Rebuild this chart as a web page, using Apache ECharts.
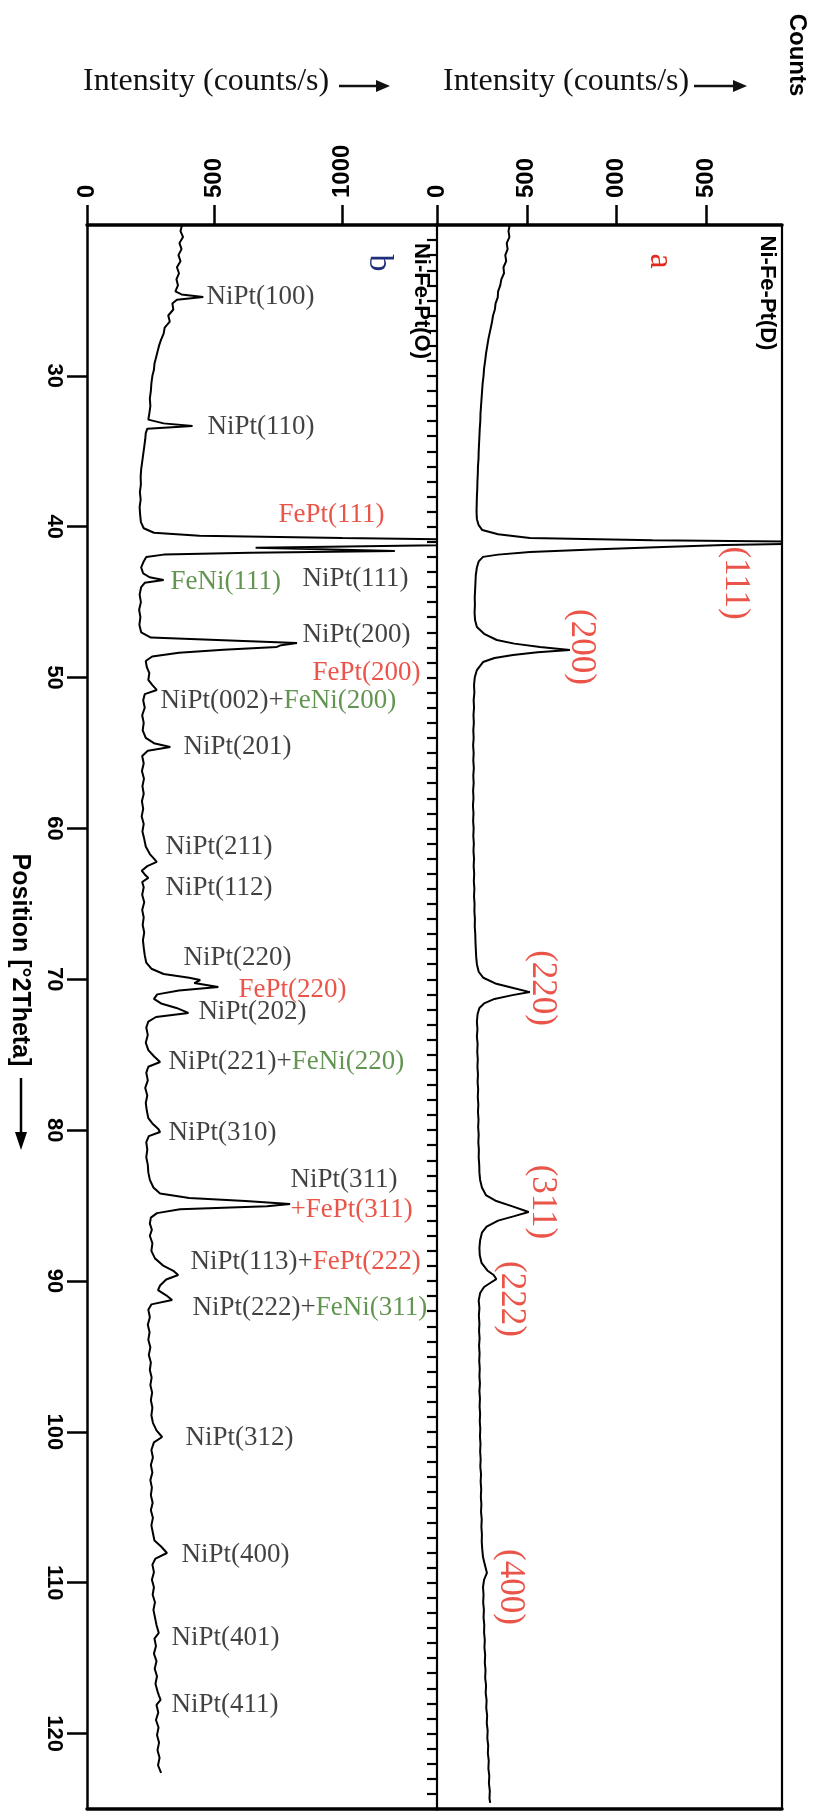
<!DOCTYPE html>
<html><head><meta charset="utf-8">
<script src="https://cdn.jsdelivr.net/npm/echarts@6/dist/echarts.min.js"></script>
<style>html,body{margin:0;padding:0;background:#fff}#c{width:813px;height:1818px}</style>
</head><body><div id="c"></div>
<script>
// ---- data: [2Theta (deg), intensity (counts/s)] ----
const xrdB = [[20.0,372],[20.4,366],[20.8,376],[21.2,362],[21.6,370],[22.0,358],[22.4,366],[22.8,352],[23.2,360],[23.6,350],[24.0,356],[24.4,346],[24.6,370],[24.77,455],[24.95,352],[25.2,334],[25.6,338],[26.0,318],[26.4,324],[26.8,304],[27.2,300],[27.6,290],[28.0,282],[28.4,276],[28.8,270],[29.2,264],[29.6,262],[30.0,256],[30.5,252],[31.0,250],[31.5,246],[32.0,248],[32.5,244],[32.9,240],[33.15,300],[33.32,413],[33.5,236],[33.8,230],[34.2,228],[34.7,224],[35.2,220],[35.7,216],[36.2,212],[36.7,210],[37.2,211],[37.7,207],[38.2,210],[38.7,206],[39.2,208],[39.7,211],[40.1,222],[40.4,262],[40.6,440],[40.75,1000],[40.9,1650],[41.08,2100],[41.25,1300],[41.4,660],[41.52,1000],[41.61,1205],[41.72,640],[41.85,300],[42.0,232],[42.3,222],[42.7,212],[43.1,220],[43.35,245],[43.53,300],[43.72,226],[44.0,212],[44.5,206],[45.0,211],[45.5,204],[46.0,209],[46.5,205],[47.0,212],[47.35,250],[47.55,560],[47.71,822],[47.85,760],[47.97,743],[48.15,534],[48.35,360],[48.6,255],[48.9,230],[49.3,234],[49.7,244],[50.16,240],[50.5,256],[50.82,273],[51.1,226],[51.5,220],[52.0,226],[52.5,216],[53.0,222],[53.5,218],[54.0,230],[54.35,262],[54.6,326],[54.85,238],[55.2,216],[55.7,222],[56.2,215],[56.7,223],[57.2,217],[57.7,222],[58.2,215],[58.7,220],[59.2,214],[59.7,222],[60.2,217],[60.7,224],[61.2,230],[61.7,246],[62.0,262],[62.22,273],[62.5,236],[62.8,214],[63.05,226],[63.28,240],[63.55,216],[63.9,222],[64.4,216],[64.9,224],[65.4,216],[65.9,222],[66.4,218],[66.9,224],[67.4,219],[67.9,222],[68.4,226],[68.9,232],[69.3,252],[69.65,300],[69.9,400],[70.05,443],[70.25,420],[70.51,514],[70.75,360],[71.0,275],[71.3,262],[71.6,290],[71.9,350],[72.23,397],[72.5,270],[72.8,240],[73.2,232],[73.7,238],[74.2,230],[74.7,240],[75.1,262],[75.48,286],[75.8,240],[76.2,232],[76.7,238],[77.2,228],[77.7,236],[78.2,230],[78.7,234],[79.2,240],[79.6,258],[79.9,278],[80.12,286],[80.4,242],[80.8,232],[81.3,236],[81.8,232],[82.3,238],[82.8,240],[83.3,246],[83.8,260],[84.2,286],[84.5,400],[84.7,620],[84.9,795],[85.05,705],[85.25,364],[85.5,274],[85.8,250],[86.2,246],[86.6,254],[87.0,246],[87.5,256],[88.0,252],[88.5,266],[89.0,300],[89.35,340],[89.6,357],[89.9,310],[90.3,286],[90.6,278],[90.95,310],[91.26,333],[91.55,252],[91.9,240],[92.4,246],[92.9,238],[93.4,245],[93.9,240],[94.4,248],[94.9,242],[95.4,250],[95.9,246],[96.4,253],[96.9,248],[97.4,255],[97.9,250],[98.4,256],[98.9,252],[99.4,258],[99.9,272],[100.34,294],[100.7,262],[101.2,252],[101.7,258],[102.2,250],[102.7,256],[103.2,248],[103.7,254],[104.2,250],[104.7,257],[105.2,250],[105.7,258],[106.2,252],[106.7,258],[107.2,264],[107.6,290],[108.03,313],[108.4,268],[108.8,256],[109.3,262],[109.8,254],[110.3,262],[110.8,257],[111.3,266],[111.8,260],[112.3,266],[112.8,272],[113.33,281],[113.7,264],[114.2,270],[114.7,262],[115.2,272],[115.7,265],[116.2,274],[116.7,268],[117.2,276],[117.5,282],[117.77,288],[118.1,272],[118.6,279],[119.1,270],[119.6,280],[120.1,274],[120.6,282],[121.1,276],[121.6,284],[122.1,278],[122.61,290]];

const xrdA = [[20.0,405],[20.4,398],[20.8,403],[21.2,388],[21.6,393],[22.0,380],[22.4,385],[22.8,370],[23.2,373],[23.6,358],[24.0,352],[24.4,340],[24.8,338],[25.2,326],[25.6,322],[26.0,312],[26.5,305],[27.0,296],[27.5,287],[28.0,280],[28.5,273],[29.0,268],[29.5,262],[30.0,259],[30.5,254],[31.0,251],[31.5,248],[32.0,245],[32.5,242],[33.0,241],[33.5,238],[34.0,236],[34.5,234],[35.0,232],[35.5,231],[36.0,228],[36.5,227],[37.0,225],[37.5,224],[38.0,222],[38.5,221],[39.0,220],[39.5,222],[39.9,232],[40.22,252],[40.5,340],[40.75,517],[40.9,1200],[41.0,2200],[41.12,2000],[41.22,1600],[41.34,1258],[41.5,900],[41.68,517],[41.85,340],[42.0,256],[42.3,232],[42.7,222],[43.2,216],[43.7,214],[44.2,212],[44.7,210],[45.2,211],[45.7,209],[46.2,212],[46.65,222],[47.1,262],[47.51,333],[47.75,430],[47.97,573],[48.17,740],[48.32,560],[48.5,423],[48.7,320],[48.97,256],[49.5,222],[50.0,210],[50.5,206],[51.0,208],[51.5,204],[52.0,206],[52.5,203],[53.0,205],[53.5,202],[54.0,204],[54.5,201],[55.0,204],[55.5,202],[56.0,205],[56.5,202],[57.0,204],[57.5,201],[58.0,203],[58.5,200],[59.0,203],[59.5,201],[60.0,204],[60.5,202],[61.0,205],[61.5,203],[62.0,206],[62.5,204],[63.0,207],[63.5,205],[64.0,208],[64.5,206],[65.0,209],[65.5,208],[66.0,211],[66.5,210],[67.0,213],[67.5,214],[68.0,216],[68.5,218],[69.0,222],[69.5,232],[69.9,258],[70.3,330],[70.6,430],[70.85,517],[71.05,420],[71.3,320],[71.6,262],[71.9,236],[72.3,226],[72.8,222],[73.3,225],[73.8,222],[74.3,226],[74.8,224],[75.3,227],[75.8,225],[76.3,228],[76.8,226],[77.3,229],[77.8,227],[78.3,230],[78.8,228],[79.3,231],[79.8,229],[80.3,232],[80.8,230],[81.3,233],[81.8,232],[82.3,235],[82.8,236],[83.3,240],[83.8,250],[84.3,272],[84.7,330],[85.05,420],[85.43,510],[85.7,430],[86.0,340],[86.4,276],[86.8,250],[87.3,240],[87.8,236],[88.3,238],[88.8,248],[89.3,280],[89.6,315],[89.87,330],[90.1,300],[90.4,262],[90.8,240],[91.3,232],[91.8,236],[92.3,233],[92.8,236],[93.3,234],[93.8,237],[94.3,234],[94.8,237],[95.3,235],[95.8,238],[96.3,236],[96.8,239],[97.3,236],[97.8,239],[98.3,237],[98.8,240],[99.3,238],[99.8,241],[100.3,239],[100.8,242],[101.3,240],[101.8,243],[102.3,241],[102.8,245],[103.3,243],[103.8,246],[104.3,244],[104.8,247],[105.3,245],[105.8,249],[106.3,247],[106.8,250],[107.3,249],[107.8,252],[108.3,256],[108.8,266],[109.35,278],[109.8,262],[110.3,256],[110.8,259],[111.3,257],[111.8,261],[112.3,259],[112.8,263],[113.3,262],[113.8,266],[114.3,264],[114.8,268],[115.3,266],[115.8,270],[116.3,268],[116.8,273],[117.3,271],[117.8,276],[118.3,274],[118.8,279],[119.3,277],[119.8,282],[120.3,280],[120.8,285],[121.3,283],[121.8,288],[122.3,286],[122.8,291],[123.3,289],[123.8,294],[124.3,292],[124.6,296]];

// ---- axis ticks ----
const thetaTicks = [30,40,50,60,70,80,90,100,110,120];
const intensityTicksB = [0,500,1000];
const intensityTicksA = [0,500,1000,1500];
const intensityTickLabelsA = ['0','500','000','500'];

// ---- peak labels: [rich text, 2Theta, intensity] ----
const peakLabelsB = [
  ['{k|NiPt(100)}',24.77,466],
  ['{k|NiPt(110)}',33.39,470],
  ['{r|FePt(111)}',39.22,748],
  ['{g|FeNi(111)}',43.66,325],
  ['{k|NiPt(111)}',43.47,842],
  ['{k|NiPt(200)}',47.18,842],
  ['{r|FePt(200)}',49.70,881],
  ['{k|NiPt(002)+}{g|FeNi(200)}',51.55,286],
  ['{k|NiPt(201)}',54.60,376],
  ['{k|NiPt(211)}',61.23,305],
  ['{k|NiPt(112)}',63.95,305],
  ['{k|NiPt(220)}',68.59,376],
  ['{r|FePt(220)}',70.71,591],
  ['{k|NiPt(202)}',72.17,434],
  ['{k|NiPt(221)+}{g|FeNi(220)}',75.48,317],
  ['{k|NiPt(310)}',80.19,317],
  ['{k|NiPt(311)}',83.30,795],
  ['{r|+FePt(311)}',85.29,795],
  ['{k|NiPt(113)+}{r|FePt(222)}',88.74,403],
  ['{k|NiPt(222)+}{g|FeNi(311)}',91.79,411],
  ['{k|NiPt(312)}',100.41,384],
  ['{k|NiPt(400)}',108.16,368],
  ['{k|NiPt(401)}',113.66,329],
  ['{k|NiPt(411)}',118.10,329]
];
const peakLabelsA = [
  ['(111)',43.73,1660],
  ['(200)',47.97,800],
  ['(220)',70.58,585],
  ['(311)',84.76,585],
  ['(222)',91.19,413],
  ['(400)',110.28,410]
];

const RED = '#e5291c', GREEN = '#3b7a26', NAVY = '#1f2f78';
const SERIF = "'Liberation Serif','Times New Roman',serif";
const SANS = "'Liberation Sans',Arial,sans-serif";

const minorTicks = [];
for (let t = 21; t <= 124; t++) minorTicks.push(t);

const chart = echarts.init(document.getElementById('c'), null, {renderer: 'canvas'});

const topLabel = {
  rotate: -90, align: 'left', verticalAlign: 'middle', margin: 27,
  color: '#000', fontFamily: SANS, fontWeight: 'bold', fontSize: 24
};

const option = {
  animation: false,
  backgroundColor: '#fff',
  grid: [
    {left: 87, top: 225, width: 350, height: 1584, show: false},
    {left: 437, top: 225, width: 345, height: 1584, show: true, borderColor: '#000', borderWidth: 2.2, backgroundColor: 'transparent'}
  ],
  xAxis: [
    {gridIndex: 0, type: 'value', position: 'top', min: 0, max: 1370,
     axisLine: {show: true, lineStyle: {color: '#000', width: 3.5}},
     axisTick: {show: true, customValues: intensityTicksB, length: 20, lineStyle: {color: '#000', width: 2.5}},
     axisLabel: Object.assign({customValues: intensityTicksB, formatter: v => String(v)}, topLabel),
     splitLine: {show: false}},
    {gridIndex: 0, type: 'value', position: 'bottom', min: 0, max: 1370,
     axisLine: {show: true, lineStyle: {color: '#000', width: 3.5}},
     axisTick: {show: false}, axisLabel: {show: false}, splitLine: {show: false}},
    {gridIndex: 1, type: 'value', position: 'top', min: 0, max: 1920,
     axisLine: {show: true, lineStyle: {color: '#000', width: 3.5}},
     axisTick: {show: true, customValues: intensityTicksA, length: 20, lineStyle: {color: '#000', width: 2.5}},
     axisLabel: Object.assign({customValues: intensityTicksA,
       formatter: v => intensityTickLabelsA[intensityTicksA.indexOf(v)] || ''}, topLabel),
     splitLine: {show: false}},
    {gridIndex: 1, type: 'value', position: 'bottom', min: 0, max: 1920,
     axisLine: {show: true, lineStyle: {color: '#000', width: 3.5}},
     axisTick: {show: false}, axisLabel: {show: false}, splitLine: {show: false}}
  ],
  yAxis: [
    {gridIndex: 0, type: 'value', position: 'left', min: 20, max: 125, inverse: true,
     axisLine: {show: true, lineStyle: {color: '#000', width: 2.5}},
     axisTick: {show: true, customValues: thetaTicks, length: 20, lineStyle: {color: '#000', width: 2.5}},
     axisLabel: {customValues: thetaTicks, rotate: -90, align: 'center', verticalAlign: 'top', margin: 22,
       color: '#000', fontFamily: SANS, fontWeight: 'bold', fontSize: 22},
     splitLine: {show: false}},
    {gridIndex: 0, type: 'value', position: 'right', offset: -350, min: 20, max: 125, inverse: true,
     axisLine: {show: false},
     axisTick: {show: true, inside: true, customValues: minorTicks, length: 10, lineStyle: {color: '#000', width: 2.2}},
     axisLabel: {show: false}, splitLine: {show: false}},
    {gridIndex: 1, type: 'value', position: 'left', min: 20, max: 125, inverse: true,
     axisLine: {show: false}, axisTick: {show: false}, axisLabel: {show: false}, splitLine: {show: false}}
  ],
  series: [
    {type: 'line', name: 'Ni-Fe-Pt(O)', xAxisIndex: 0, yAxisIndex: 0, clip: true,
     data: xrdB.map(p => [p[1], p[0]]), showSymbol: false, symbol: 'none',
     lineStyle: {color: '#000', width: 2}, silent: true},
    {type: 'line', name: 'Ni-Fe-Pt(D)', xAxisIndex: 2, yAxisIndex: 2, clip: true,
     data: xrdA.map(p => [p[1], p[0]]), showSymbol: false, symbol: 'none',
     lineStyle: {color: '#000', width: 2}, silent: true},
    {type: 'scatter', xAxisIndex: 0, yAxisIndex: 0, symbolSize: 1, silent: true,
     itemStyle: {color: 'rgba(0,0,0,0)'},
     data: peakLabelsB.map(p => ({value: [p[2], p[1]], label: {formatter: p[0]}})),
     label: {show: true, position: 'right', distance: 0,
       rich: {
         k: {color: '#111', fontFamily: SERIF, fontSize: 27},
         r: {color: RED, fontFamily: SERIF, fontSize: 27},
         g: {color: GREEN, fontFamily: SERIF, fontSize: 27}
       }}},
    {type: 'scatter', xAxisIndex: 2, yAxisIndex: 2, symbolSize: 1, silent: true,
     itemStyle: {color: 'rgba(0,0,0,0)'},
     data: peakLabelsA.map(p => ({value: [p[2], p[1]], name: p[0]})),
     label: {show: true, position: 'inside', rotate: -90, formatter: '{b}',
       color: RED, fontFamily: SERIF, fontSize: 35}}
  ],
  graphic: [
    {type: 'text', left: 83, top: 66, style: {text: 'Intensity (counts/s)', fill: '#111', font: "32px " + SERIF}},
    {type: 'line', shape: {x1: 339, y1: 86, x2: 378, y2: 86}, style: {stroke: '#111', lineWidth: 2.5}},
    {type: 'polygon', shape: {points: [[376, 80], [390, 86], [376, 92]]}, style: {fill: '#111'}},
    {type: 'text', left: 443, top: 66, style: {text: 'Intensity (counts/s)', fill: '#111', font: "32px " + SERIF}},
    {type: 'line', shape: {x1: 694, y1: 86, x2: 735, y2: 86}, style: {stroke: '#111', lineWidth: 2.5}},
    {type: 'polygon', shape: {points: [[733, 80], [747, 86], [733, 92]]}, style: {fill: '#111'}},
    {type: 'text', x: 797, y: 55, rotation: -Math.PI / 2,
     style: {text: 'Counts', fill: '#000', font: "bold 24px " + SANS, textAlign: 'center', textVerticalAlign: 'middle'}},
    {type: 'text', x: 20, y: 960, rotation: -Math.PI / 2,
     style: {text: 'Position [°2Theta]', fill: '#000', font: "bold 25px " + SANS, textAlign: 'center', textVerticalAlign: 'middle'}},
    {type: 'line', shape: {x1: 21, y1: 1078, x2: 21, y2: 1136}, style: {stroke: '#000', lineWidth: 2.5}},
    {type: 'polygon', shape: {points: [[15, 1132], [21, 1150], [27, 1132]]}, style: {fill: '#000'}},
    {type: 'text', x: 421, y: 301, rotation: -Math.PI / 2,
     style: {text: 'Ni-Fe-Pt(O)', fill: '#000', font: "bold 22px " + SANS, textAlign: 'center', textVerticalAlign: 'middle'}},
    {type: 'text', x: 767, y: 293, rotation: -Math.PI / 2,
     style: {text: 'Ni-Fe-Pt(D)', fill: '#000', font: "bold 22px " + SANS, textAlign: 'center', textVerticalAlign: 'middle'}},
    {type: 'text', x: 660, y: 261, rotation: -Math.PI / 2,
     style: {text: 'a', fill: RED, font: "34px " + SERIF, textAlign: 'center', textVerticalAlign: 'middle'}},
    {type: 'text', x: 379, y: 263, rotation: -Math.PI / 2,
     style: {text: 'b', fill: NAVY, font: "34px " + SERIF, textAlign: 'center', textVerticalAlign: 'middle'}}
  ]
};
chart.setOption(option);
</script>
</body></html>
